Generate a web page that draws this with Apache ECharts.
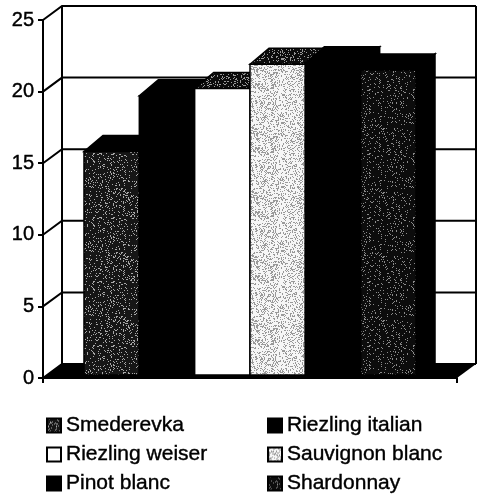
<!DOCTYPE html>
<html>
<head>
<meta charset="utf-8">
<script src="https://cdn.jsdelivr.net/npm/echarts@6/dist/echarts.min.js"></script>
<style>
  html, body { margin: 0; background: #fff; }
  #chart { width: 479px; height: 498px; }
</style>
</head>
<body>
<div id="chart"></div>
<script>
// values
const categories = ['Vino'];
const wines = ['Smederevka', 'Riezling italian', 'Riezling weiser', 'Sauvignon blanc', 'Pinot blanc', 'Shardonnay'];
const values = [15.6, 19.5, 20.0, 21.7, 21.8, 21.3];
const yTicks = [0, 5, 10, 15, 20, 25];
const legendLeft = ['Smederevka', 'Riezling weiser', 'Pinot blanc'];
const legendRight = ['Riezling italian', 'Sauvignon blanc', 'Shardonnay'];

// tiled speckle, fixed hash so the picture does not change between runs
function speckle(bg, fg, amount) {
  const size = 64;
  const c = document.createElement('canvas');
  c.width = c.height = size;
  const ctx = c.getContext('2d');
  ctx.fillStyle = bg;
  ctx.fillRect(0, 0, size, size);
  ctx.fillStyle = fg;
  for (let y = 0; y < size; y++) {
    for (let x = 0; x < size; x++) {
      const h = Math.abs(Math.sin(x * 12.9898 + y * 78.233) * 43758.5453) % 1;
      if (h < amount) ctx.fillRect(x, y, 1, 1);
    }
  }
  return { type: 'pattern', image: c, repeat: 'repeat' };
}

const darkFill = speckle('#161616', '#a8a8a8', 0.13);
const midDark = speckle('#0c0c0c', '#8a8a8a', 0.09);
const lightFill = speckle('#f6f6f6', '#999', 0.28);
const topFill = speckle('#0c0c0c', '#999', 0.18);

const faces = {
  'Smederevka': { front: darkFill, top: '#000', side: '#000' },
  'Riezling italian': { front: '#000', top: '#000', side: '#000' },
  'Riezling weiser': { front: '#fff', top: topFill, side: '#000' },
  'Sauvignon blanc': { front: lightFill, top: topFill, side: '#000' },
  'Pinot blanc': { front: '#000', top: '#000', side: '#000' },
  'Shardonnay': { front: midDark, top: '#000', side: '#000' }
};

const WALL_DX = 19, WALL_DY = 14;
const BAR_DX = 19, BAR_DY = 16;
const BAR_LIFT = 3;
const BAND_FILL = 0.802;
const scanText = { textBorderColor: '#000', textBorderWidth: 0.4 };

function renderWall(params, api) {
  const g = params.coordSys;
  const p = api.coord([0, api.value(0)]);
  const x0 = g.x;
  const y = p[1];
  const x1 = g.x + WALL_DX;
  const x2 = g.x + g.width + WALL_DX;
  const line = { stroke: '#000', lineWidth: 2, fill: null };
  const children = [
    { type: 'polyline', shape: { points: [[x0, y], [x1, y - WALL_DY], [x2, y - WALL_DY]] }, style: line }
  ];
  if (params.dataIndex === 0) {
    const b = g.y + g.height;
    children.push(
      { type: 'polygon', shape: { points: [[x0, b], [x1, b - WALL_DY], [x2, b - WALL_DY], [g.x + g.width, b]] }, style: { fill: '#000' } },
      { type: 'line', shape: { x1: x1, y1: g.y - WALL_DY, x2: x1, y2: b - WALL_DY }, style: line },
      { type: 'line', shape: { x1: x2, y1: g.y - WALL_DY, x2: x2, y2: b - WALL_DY }, style: line }
    );
  }
  return { type: 'group', children: children };
}

function renderBar(params, api) {
  const i = params.seriesIndex - 1;
  const band = api.size([1, 0])[0];
  const w = band * BAND_FILL / wines.length;
  const mid = api.coord([0, 0])[0];
  const l = mid - w * wines.length / 2 + i * w;
  const r = l + w;
  const base = api.coord([0, 0])[1];
  const t = api.coord([0, api.value(1)])[1] - BAR_LIFT;
  const b = base - BAR_LIFT;
  const f = faces[wines[i]];
  const edge = { stroke: '#000', lineWidth: 1.5 };
  return {
    type: 'group',
    children: [
      // side runs down to the floor so no white notch shows at the back
      { type: 'polygon', shape: { points: [[r, t], [r + BAR_DX, t - BAR_DY], [r + BAR_DX, base - WALL_DY], [r, b]] }, style: Object.assign({ fill: f.side }, edge) },
      { type: 'polygon', shape: { points: [[l, t], [l + BAR_DX, t - BAR_DY], [r + BAR_DX, t - BAR_DY], [r, t]] }, style: Object.assign({ fill: f.top }, edge) },
      { type: 'rect', shape: { x: l, y: t, width: w, height: b - t }, style: Object.assign({ fill: f.front }, edge) }
    ]
  };
}

function legendBlock(names, left) {
  return {
    left: left,
    top: 414,
    padding: 0,
    orient: 'vertical',
    itemWidth: 14,
    itemHeight: 14,
    itemGap: 6,
    selectedMode: false,
    icon: 'rect',
    textStyle: Object.assign({ fontFamily: 'Liberation Sans', fontSize: 21, color: '#000', lineHeight: 23 }, scanText),
    data: names.map(function (n) {
      return {
        name: n,
        itemStyle: { color: faces[n].front, borderColor: '#000', borderWidth: 2 }
      };
    })
  };
}

const chart = echarts.init(document.getElementById('chart'), null, { renderer: 'canvas' });
chart.setOption({
  animation: false,
  backgroundColor: '#fff',
  grid: { left: 43, top: 20, width: 414, height: 358 },
  legend: [legendBlock(legendLeft, 46), legendBlock(legendRight, 267)],
  xAxis: {
    type: 'category',
    data: categories,
    axisLine: { lineStyle: { color: '#000', width: 2 } },
    axisTick: { show: true, length: 5, lineStyle: { color: '#000', width: 2 } },
    axisLabel: { show: false }
  },
  yAxis: {
    type: 'value',
    min: 0,
    max: 25,
    interval: 5,
    axisLine: { show: true, lineStyle: { color: '#000', width: 2 } },
    axisTick: { show: true, length: 5, lineStyle: { color: '#000', width: 2 } },
    axisLabel: Object.assign({ fontFamily: 'Liberation Sans', fontSize: 20, color: '#000', margin: 9 }, scanText),
    splitLine: { show: false }
  },
  series: [
    { type: 'custom', name: 'wall', silent: true, renderItem: renderWall, data: yTicks.map(function (v) { return [v]; }), encode: { y: 0 }, z: 1 }
  ].concat(wines.map(function (name, i) {
    return {
      type: 'custom',
      name: name,
      renderItem: renderBar,
      data: [[0, values[i]]],
      encode: { x: 0, y: 1 },
      itemStyle: { color: faces[name].front },
      z: 2
    };
  }))
});
</script>
</body>
</html>
